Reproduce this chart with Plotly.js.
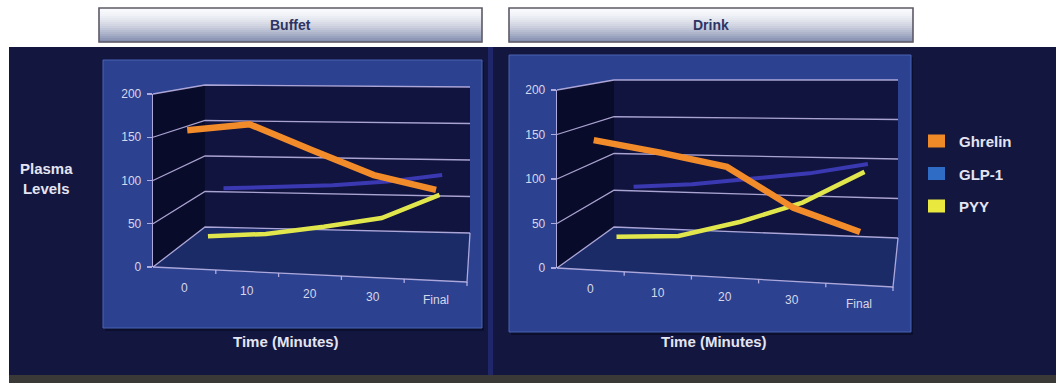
<!DOCTYPE html>
<html>
<head>
<meta charset="utf-8">
<script src="https://cdn.plot.ly/plotly-3.0.1.min.js"></script>
<style>
  html, body { margin: 0; padding: 0; background: #ffffff; }
  #chart { width: 1056px; height: 383px; }
</style>
</head>
<body>
<div id="chart"></div>
<script>
// Sampling times along the horizontal axis
const times = ['0', '10', '20', '30', 'Final'];
const yTicks = [0, 50, 100, 150, 200];
const hormones = ['Ghrelin', 'GLP-1', 'PYY'];

// Plasma levels after the buffet meal
const buffetGhrelin = [164, 171, 141, 112, 95];
const buffetGLP1 = [66, 68, 70, 75, 84];
const buffetPYY = [20, 23, 32, 43, 72];

// Plasma levels after the liquid meal
const drinkGhrelin = [151, 137, 121, 75, 48];
const drinkGLP1 = [68, 71, 78, 85, 97];
const drinkPYY = [22, 23, 40, 63, 100];

// ---- styling ----
const W = 1056, H = 383;
const FONT = 'Liberation Sans, Arial, Helvetica, sans-serif';
const swatchColors = ['#f08a28', '#2f6cc6', '#e8e83e'];
const lineColors = ['#f28b2a', '#3b39b2', '#e0e64c'];
const lineWidths = [6.5, 4, 4.5];
const depth = [0.06, 0.83, 0.5];       // 0 = front edge, 1 = back wall
const drawOrder = [1, 2, 0];           // back-most series first
const gridColor = 'rgba(198,188,236,0.85)';
const textColor = '#e4e4f2';
const vMax = 200;

const px = x => x / W;
const py = y => 1 - y / H;
const lerp = (a, b, t) => a + (b - a) * t;

// Box of each chart: front plane and back wall corners, in pixels
const panels = [
  { title: 'Buffet', tab: [99, 482], card: [103, 60, 482, 328], xTitle: 286,
    front: { xl: 153, xr: 467, bl: 267, br: 282, hl: 173, hr: 176 },
    back:  { xl: 205, xr: 470, bl: 227, br: 233, hl: 142, hr: 146 },
    series: [buffetGhrelin, buffetGLP1, buffetPYY] },
  { title: 'Drink', tab: [509, 913], card: [509, 55, 911, 332], xTitle: 714,
    front: { xl: 557, xr: 893, bl: 268, br: 287, hl: 178, hr: 182 },
    back:  { xl: 614, xr: 898, bl: 227, br: 238, hl: 147, hr: 158 },
    series: [drinkGhrelin, drinkGLP1, drinkPYY] }
];
const nCat = times.length;

// position of a plane slice at category coordinate u (0..nCat) and depth d
function plane(p, u, d) {
  const t = u / nCat, f = p.front, b = p.back;
  return {
    x: lerp(lerp(f.xl, f.xr, t), lerp(b.xl, b.xr, t), d),
    base: lerp(lerp(f.bl, f.br, t), lerp(b.bl, b.br, t), d),
    h: lerp(lerp(f.hl, f.hr, t), lerp(b.hl, b.hr, t), d)
  };
}
function pt(p, u, v, d) {
  const q = plane(p, u, d);
  return [px(q.x), py(q.base - q.h * v / vMax)];
}
function path(points, close) {
  return points.map((q, i) => (i ? 'L' : 'M') + q[0].toFixed(5) + ',' + q[1].toFixed(5)).join(' ') + (close ? ' Z' : '');
}
function rect(x0, y0, x1, y1, fill, line) {
  return { type: 'rect', xref: 'paper', yref: 'paper', layer: 'below',
           x0: px(x0), x1: px(x1), y0: py(y1), y1: py(y0),
           fillcolor: fill, line: line || { width: 0 } };
}

const shapes = [];
const annotations = [];
const data = [];
const layout = {
  width: W, height: H,
  margin: { l: 0, r: 0, t: 0, b: 0 },
  paper_bgcolor: '#ffffff', plot_bgcolor: 'rgba(0,0,0,0)',
  showlegend: false, hovermode: false,
  font: { family: FONT, color: textColor }
};

// slide background
shapes.push(rect(9, 47, W, 375, '#13173f'));
shapes.push(rect(9, 375, W, H, '#3b3838'));
shapes.push(rect(488, 47, 493, 375, '#1f276a'));

// title tabs with a vertical sheen
function tab(x0, x1, label) {
  const y0 = 8, y1 = 42, n = 17;
  for (let i = 0; i < n; i++) {
    const t = i / (n - 1);
    const k = Math.pow(t, 1.6);
    const r = Math.round(lerp(248, 132, k)), g = Math.round(lerp(249, 142, k)), b = Math.round(lerp(252, 175, k));
    const a = lerp(y0, y1, i / n), c = lerp(y0, y1, (i + 1) / n);
    shapes.push(rect(x0, a, x1, c + 0.3, `rgb(${r},${g},${b})`));
  }
  shapes.push(rect(x0, y0, x1, y1, 'rgba(0,0,0,0)', { color: '#5e5966', width: 1.6 }));
  annotations.push({ xref: 'paper', yref: 'paper', x: px((x0 + x1) / 2), y: py(25),
    xanchor: 'center', yanchor: 'middle', showarrow: false, text: label,
    font: { family: FONT, size: 14, color: '#2d3463', weight: 'bold' } });
}

let axisIndex = 0;
panels.forEach((p, pi) => {
  tab(p.tab[0], p.tab[1], p.title);
  const c = p.card;
  shapes.push(rect(c[0] + 2, c[1] + 2, c[2] + 2, c[3] + 3, '#0b0e2c'));
  shapes.push(rect(c[0], c[1], c[2], c[3], '#2c4290', { color: '#4a63b4', width: 1 }));

  // walls and floor
  const last = nCat;
  shapes.push({ type: 'path', xref: 'paper', yref: 'paper', layer: 'below', line: { width: 0 },
    fillcolor: '#090b2b', path: path([pt(p, 0, 0, 0), pt(p, 0, vMax, 0), pt(p, 0, vMax, 1), pt(p, 0, 0, 1)], true) });
  shapes.push({ type: 'path', xref: 'paper', yref: 'paper', layer: 'below', line: { width: 0 },
    fillcolor: '#10143f', path: path([pt(p, 0, 0, 1), pt(p, 0, vMax, 1), pt(p, last, vMax, 1), pt(p, last, 0, 1)], true) });
  shapes.push({ type: 'path', xref: 'paper', yref: 'paper', layer: 'below', line: { width: 0 },
    fillcolor: '#1a2b68', path: path([pt(p, 0, 0, 0), pt(p, last, 0, 0), pt(p, last, 0, 1), pt(p, 0, 0, 1)], true) });

  // gridlines across side wall and back wall
  yTicks.forEach(v => {
    shapes.push({ type: 'path', xref: 'paper', yref: 'paper', layer: 'below',
      line: { color: gridColor, width: 1.3 },
      path: path([pt(p, 0, v, 0), pt(p, 0, v, 1), pt(p, last, v, 1)], false) });
  });
  // floor front and right edges
  shapes.push({ type: 'path', xref: 'paper', yref: 'paper', layer: 'below',
    line: { color: gridColor, width: 1.3 },
    path: path([pt(p, 0, 0, 0), pt(p, last, 0, 0), pt(p, last, 0, 1)], false) });
  // category tick marks and labels along the front edge
  for (let u = 1; u <= last; u++) {
    const a = pt(p, u, 0, 0);
    shapes.push({ type: 'line', xref: 'paper', yref: 'paper', layer: 'below',
      x0: a[0], x1: a[0], y0: a[1], y1: a[1] - 4 / H, line: { color: gridColor, width: 1.3 } });
  }
  times.forEach((t, i) => {
    const a = pt(p, i + 0.5, 0, 0);
    annotations.push({ xref: 'paper', yref: 'paper', x: a[0], y: a[1] - 19 / H,
      xanchor: 'center', yanchor: 'middle', showarrow: false, text: t,
      font: { family: FONT, size: 12, color: '#d6d7ea' } });
  });

  // one flat plane per series, placed at its depth inside the box
  drawOrder.forEach(si => {
    axisIndex += 1;
    const k = axisIndex === 1 ? '' : String(axisIndex);
    const d = depth[si];
    const left = plane(p, 0, d), right = plane(p, last, d), mid = plane(p, last / 2, d);
    layout['xaxis' + k] = { domain: [px(left.x), px(right.x)], anchor: 'y' + k,
      type: 'category', range: [-0.5, nCat - 0.5], visible: false, fixedrange: true };
    layout['yaxis' + k] = { domain: [py(mid.base), py(mid.base - mid.h)], anchor: 'x' + k,
      range: [0, vMax], visible: false, fixedrange: true };
    data.push({ type: 'scatter', mode: 'lines', name: hormones[si],
      x: times, y: p.series[si], xaxis: 'x' + k, yaxis: 'y' + k,
      line: { color: lineColors[si], width: lineWidths[si] },
      cliponaxis: false, hoverinfo: 'skip' });
  });

  // value axis along the front edge of the side wall
  axisIndex += 1;
  const k = String(axisIndex);
  const f = p.front;
  layout['xaxis' + k] = { domain: [px(f.xl), px(f.xl) + 0.01], anchor: 'y' + k,
    range: [0, 1], visible: false, fixedrange: true };
  layout['yaxis' + k] = { domain: [py(f.bl), py(f.bl - f.hl)], anchor: 'x' + k,
    range: [0, vMax], tickvals: yTicks, ticks: 'outside', ticklen: 5, tickwidth: 1.3,
    tickcolor: gridColor, showline: true, linecolor: gridColor, linewidth: 1.3,
    showgrid: false, zeroline: false, ticklabelstandoff: 3, fixedrange: true,
    tickfont: { family: FONT, size: 12, color: '#d6d7ea' } };
  data.push({ type: 'scatter', mode: 'lines', x: [], y: [], xaxis: 'x' + k, yaxis: 'y' + k,
    hoverinfo: 'skip', showlegend: false });

  annotations.push({ xref: 'paper', yref: 'paper', x: px(p.xTitle), y: py(341),
    xanchor: 'center', yanchor: 'middle', showarrow: false, text: 'Time (Minutes)',
    font: { family: FONT, size: 15, color: textColor, weight: 'bold' } });
});

// value axis caption
annotations.push({ xref: 'paper', yref: 'paper', x: px(46), y: py(178),
  xanchor: 'center', yanchor: 'middle', showarrow: false, align: 'center',
  text: 'Plasma<br>Levels',
  font: { family: FONT, size: 15, color: textColor, weight: 'bold' } });

// legend
hormones.forEach((name, i) => {
  const yc = 141.5 + i * 32.5;
  shapes.push(rect(928, yc - 7, 945, yc + 6, swatchColors[i]));
  annotations.push({ xref: 'paper', yref: 'paper', x: px(957), y: py(yc),
    xanchor: 'left', yanchor: 'middle', showarrow: false, text: name,
    font: { family: FONT, size: 15, color: textColor, weight: 'bold' } });
});

layout.shapes = shapes;
layout.annotations = annotations;

Plotly.newPlot('chart', data, layout, { staticPlot: true, displayModeBar: false });
</script>
</body>
</html>
